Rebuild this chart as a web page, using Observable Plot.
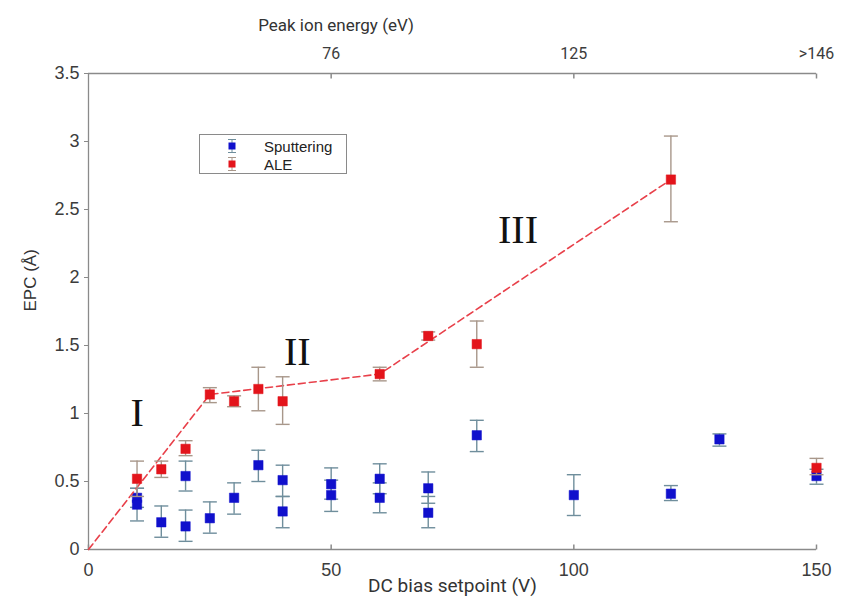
<!DOCTYPE html>
<html>
<head>
<meta charset="utf-8">
<script src="https://cdn.jsdelivr.net/npm/d3@7"></script>
<script src="https://cdn.jsdelivr.net/npm/@observablehq/plot@0.6"></script>
<style>
  html, body { margin: 0; padding: 0; background: #fff; }
  #chart { position: relative; width: 841px; height: 609px; }
  #legend {
    position: absolute; left: 199px; top: 134px; width: 146px; height: 38px;
    border: 1px solid #8a8a8a; background: #fff;
    font-family: "Liberation Sans", Arial, sans-serif; font-size: 15px; color: #222;
  }
  #legend .row { position: absolute; left: 0; height: 18px; display: flex; align-items: center; }
  #legend svg { margin-left: 26px; margin-right: 26px; }
</style>
</head>
<body>
<div id="chart"><div id="legend"></div></div>
<script>
// ---- Sputtering (blue) : DC bias (V), EPC (Å), error range
const sputX  = [10, 10, 15, 20, 20, 25, 30, 35, 40, 40, 50, 50, 60, 60, 70, 70, 80, 100, 120, 130, 150];
const sputY  = [0.38, 0.33, 0.20, 0.54, 0.17, 0.23, 0.38, 0.62, 0.51, 0.28, 0.48, 0.40, 0.52, 0.38, 0.45, 0.27, 0.84, 0.40, 0.41, 0.81, 0.54];
const sputLo = [0.31, 0.21, 0.09, 0.43, 0.06, 0.12, 0.26, 0.50, 0.39, 0.16, 0.37, 0.28, 0.41, 0.27, 0.34, 0.16, 0.72, 0.25, 0.36, 0.76, 0.48];
const sputHi = [0.45, 0.45, 0.32, 0.65, 0.29, 0.35, 0.49, 0.73, 0.62, 0.39, 0.60, 0.51, 0.63, 0.49, 0.57, 0.39, 0.95, 0.55, 0.47, 0.85, 0.59];

// ---- ALE (red)
const aleX  = [10, 15, 20, 25, 30, 35, 40, 60, 70, 80, 120, 150];
const aleY  = [0.52, 0.59, 0.74, 1.14, 1.09, 1.18, 1.09, 1.29, 1.57, 1.51, 2.72, 0.60];
const aleLo = [0.39, 0.53, 0.69, 1.08, 1.05, 1.02, 0.92, 1.24, 1.54, 1.34, 2.41, 0.55];
const aleHi = [0.65, 0.65, 0.80, 1.19, 1.13, 1.34, 1.27, 1.34, 1.60, 1.68, 3.04, 0.67];

// ---- piecewise trend through the ALE regimes
const trendX = [0, 25, 60, 120];
const trendY = [0, 1.14, 1.29, 2.72];

// ---- regime labels
const regimeText = ["I", "II", "III"];
const regimeX = [10, 43, 88.5];
const regimeY = [1.0, 1.45, 2.35];

// ---- axes
const xTicks = [0, 50, 100, 150];
const yTicks = [0, 0.5, 1, 1.5, 2, 2.5, 3, 3.5];
const topTickPos = [50, 100, 150];
const topTickLabels = ["76", "125", ">146"];
const xTitle = "DC bias setpoint (V)";
const yTitle = "EPC (Å)";
const topTitle = "Peak ion energy (eV)";
const topTitleAt = 51; // DC bias the top title sits over
const seriesNames = ["Sputtering", "ALE"];

const blue = "#1010cc", red = "#e3141b";
const blueErr = "#6f8e9c", redErr = "#a8978a";
const axisColor = "#8a8a8a", textColor = "#3c3c3c";

const sputter = sputX.map((x, i) => ({x, y: sputY[i], lo: sputLo[i], hi: sputHi[i]}));
const ale = aleX.map((x, i) => ({x, y: aleY[i], lo: aleLo[i], hi: aleHi[i]}));
const trend = trendX.map((x, i) => ({x, y: trendY[i]}));
const regimes = regimeText.map((t, i) => ({t, x: regimeX[i], y: regimeY[i]}));
const topLabel = new Map(topTickPos.map((p, i) => [p, topTickLabels[i]]));

// error-bar cap and inward tick glyphs
const cap = {draw(ctx) { ctx.moveTo(-7, 0); ctx.lineTo(7, 0); }};
const stubUp = {draw(ctx) { ctx.moveTo(0, 0); ctx.lineTo(0, -5); }};
const stubDown = {draw(ctx) { ctx.moveTo(0, 0); ctx.lineTo(0, 5); }};

function errorBars(data, color) {
  return [
    Plot.ruleX(data, {x: "x", y1: "lo", y2: "hi", stroke: color, strokeWidth: 1.4}),
    Plot.dot(data, {x: "x", y: "lo", symbol: cap, r: 3, fill: "none", stroke: color, strokeWidth: 1.4}),
    Plot.dot(data, {x: "x", y: "hi", symbol: cap, r: 3, fill: "none", stroke: color, strokeWidth: 1.4})
  ];
}

const chart = Plot.plot({
  width: 841,
  height: 609,
  marginLeft: 88,
  marginRight: 25,
  marginTop: 73,
  marginBottom: 60,
  style: {fontFamily: "'Liberation Sans', Arial, sans-serif", background: "#fff", overflow: "visible"},
  x: {domain: [0, 150]},
  y: {domain: [0, 3.5]},
  marks: [
    // frame lines
    Plot.ruleX([0], {stroke: axisColor, strokeWidth: 1.3}),
    Plot.ruleY([0], {stroke: axisColor, strokeWidth: 1.3}),
    Plot.ruleY([3.5], {stroke: axisColor, strokeWidth: 1.3}),
    Plot.dot(xTicks, {x: d => d, frameAnchor: "bottom", symbol: stubUp, r: 3, fill: "none", stroke: axisColor}),
    Plot.dot(topTickPos, {x: d => d, frameAnchor: "top", symbol: stubDown, r: 3, fill: "none", stroke: axisColor}),

    Plot.axisY({ticks: yTicks, tickFormat: d => String(d), tickSize: 4, tickPadding: 5, fontSize: 18, color: textColor, stroke: axisColor, label: null}),
    Plot.axisX({ticks: xTicks, tickFormat: d => String(d), tickSize: 0, tickPadding: 14, fontSize: 18, color: textColor, label: null}),
    Plot.axisX({anchor: "top", ticks: topTickPos, tickFormat: d => topLabel.get(d), tickSize: 0, tickPadding: 15, fontSize: 16, fontFamily: "Roboto", color: textColor, label: null}),

    Plot.text([xTitle], {frameAnchor: "bottom", dy: 42, fontSize: 19, fontFamily: "Roboto", fill: "#333"}),
    Plot.text([topTitle], {x: [topTitleAt], frameAnchor: "top", dy: -55, fontSize: 17, fontFamily: "Roboto", fill: "#333"}),
    Plot.text([yTitle], {frameAnchor: "left", dx: -58, rotate: -90, fontSize: 17, fill: "#333"}),

    // sputtering series
    ...errorBars(sputter, blueErr),
    Plot.dot(sputter, {x: "x", y: "y", symbol: "square", r: 5.3, fill: blue, stroke: blue, strokeWidth: 0.5}),

    // trend line
    Plot.line(trend, {x: "x", y: "y", stroke: "#e8404a", strokeWidth: 1.6, strokeDasharray: "7,4"}),

    // ALE series
    ...errorBars(ale, redErr),
    Plot.dot(ale, {x: "x", y: "y", symbol: "square", r: 5.3, fill: red, stroke: red, strokeWidth: 0.5}),

    // regime labels
    Plot.text(regimes, {x: "x", y: "y", text: "t", fontFamily: "'Liberation Serif', 'DejaVu Serif', serif", fontSize: 40, fill: "#111"})
  ]
});
document.getElementById("chart").prepend(chart);

// legend
const legend = document.getElementById("legend");
[[blue, blueErr], [red, redErr]].forEach(([c, e], i) => {
  const row = document.createElement("div");
  row.className = "row";
  row.style.top = (2 + i * 18) + "px";
  row.innerHTML = `<svg width="12" height="16" viewBox="0 0 12 16">
      <line x1="6" y1="1" x2="6" y2="15" stroke="${e}" stroke-width="1"/>
      <line x1="2" y1="1.5" x2="10" y2="1.5" stroke="${e}" stroke-width="1"/>
      <line x1="2" y1="14.5" x2="10" y2="14.5" stroke="${e}" stroke-width="1"/>
      <rect x="2.5" y="4.5" width="7" height="7" fill="${c}"/></svg><span>${seriesNames[i]}</span>`;
  legend.appendChild(row);
});
</script>
</body>
</html>
